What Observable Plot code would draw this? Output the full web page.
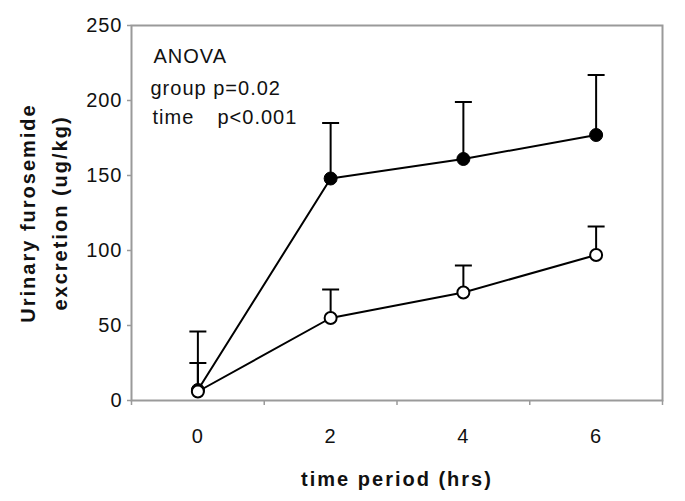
<!DOCTYPE html>
<html>
<head>
<meta charset="utf-8">
<script src="https://cdn.jsdelivr.net/npm/d3@7"></script>
<script src="https://cdn.jsdelivr.net/npm/@observablehq/plot@0.6"></script>
<style>
  html, body { margin: 0; padding: 0; background: #fff; }
  #chart svg { font-family: "Liberation Sans", Arial, sans-serif; letter-spacing: 1px; }
  .ttl text { letter-spacing: 2px; }
</style>
</head>
<body>
<div id="chart"></div>
<script>
// ---- data ----
const times = [0, 2, 4, 6];
const timeLabels = ["0", "2", "4", "6"];
const filledMean = [7, 148, 161, 177];
const filledSD = [39, 37, 38, 40];
const openMean = [6, 55, 72, 97];
const openSD = [19, 19, 18, 19];
const yTicks = [0, 50, 100, 150, 200, 250];
const categoryBounds = [-1, 1, 3, 5, 7];
const annoTitle = ["ANOVA"];
const annoGroup = ["group p=0.02"];
const annoTimeA = ["time"];
const annoTimeB = ["p<0.001"];
const yTitle = "Urinary furosemide\nexcretion (ug/kg)";
const xTitle = "time period (hrs)";

const filled = times.map((t, i) => ({t, m: filledMean[i], hi: filledMean[i] + filledSD[i]}));
const open = times.map((t, i) => ({t, m: openMean[i], hi: openMean[i] + openSD[i]}));
const capHalf = 0.128;

const gray = "#9a9a9a";

const chart = Plot.plot({
  width: 685,
  height: 501,
  marginLeft: 131,
  marginRight: 23,
  marginTop: 25,
  marginBottom: 101,
  style: {background: "#fff", color: "#000", fontSize: "20px"},
  x: {domain: [-1, 7], label: null},
  y: {domain: [0, 250], label: null},
  marks: [
    Plot.frame({stroke: gray, strokeWidth: 2}),
    Plot.axisY({ticks: yTicks, tickSize: 4, tickPadding: 5, stroke: gray, strokeWidth: 1.5, fill: "#111", fontSize: 20}),
    Plot.axisX({ticks: categoryBounds, tickSize: 5, tickFormat: () => "", stroke: gray, strokeWidth: 1.5}),
    Plot.axisX({ticks: times, tickSize: 0, tickPadding: 28, tickFormat: (d) => timeLabels[times.indexOf(d)], fill: "#111", fontSize: 20}),
    // error bars (upper only)
    Plot.ruleX(filled, {x: "t", y1: "m", y2: "hi", stroke: "#000", strokeWidth: 2}),
    Plot.link(filled, {x1: d => d.t - capHalf, x2: d => d.t + capHalf, y1: "hi", y2: "hi", stroke: "#000", strokeWidth: 2}),
    Plot.ruleX(open, {x: "t", y1: "m", y2: "hi", stroke: "#000", strokeWidth: 2}),
    Plot.link(open, {x1: d => d.t - capHalf, x2: d => d.t + capHalf, y1: "hi", y2: "hi", stroke: "#000", strokeWidth: 2}),
    // lines
    Plot.line(filled, {x: "t", y: "m", stroke: "#000", strokeWidth: 2}),
    Plot.line(open, {x: "t", y: "m", stroke: "#000", strokeWidth: 2}),
    // points
    Plot.dot(filled, {x: "t", y: "m", r: 6.5, fill: "#000", stroke: "#000", strokeWidth: 1}),
    Plot.dot(open, {x: "t", y: "m", r: 6, fill: "#fff", stroke: "#000", strokeWidth: 2}),
    // annotation
    Plot.text(annoTitle, {frameAnchor: "top-left", dx: 22, dy: 31, textAnchor: "start", lineAnchor: "middle", fill: "#111", fontSize: 20}),
    Plot.text(annoGroup, {frameAnchor: "top-left", dx: 19, dy: 63, textAnchor: "start", lineAnchor: "middle", fill: "#111", fontSize: 20}),
    Plot.text(annoTimeA, {frameAnchor: "top-left", dx: 21, dy: 92, textAnchor: "start", lineAnchor: "middle", fill: "#111", fontSize: 20}),
    Plot.text(annoTimeB, {frameAnchor: "top-left", dx: 86, dy: 92, textAnchor: "start", lineAnchor: "middle", fill: "#111", fontSize: 20}),
    // axis titles
    Plot.text([yTitle], {frameAnchor: "left", dx: -91, rotate: -90, textAnchor: "middle", lineAnchor: "middle", lineHeight: 1.6, fontWeight: "bold", fill: "#111", fontSize: 20, className: "ttl"}),
    Plot.text([xTitle], {frameAnchor: "bottom", dy: 79, textAnchor: "middle", lineAnchor: "middle", fontWeight: "bold", fill: "#111", fontSize: 20, className: "ttl"})
  ]
});
document.getElementById("chart").appendChild(chart);
</script>
</body>
</html>
